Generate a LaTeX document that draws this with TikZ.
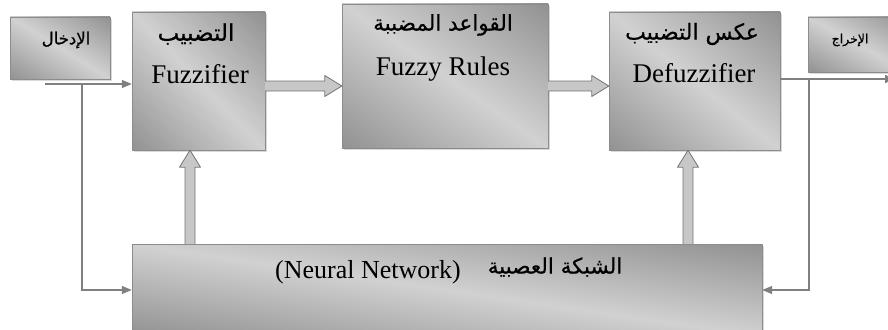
\documentclass[tikz,border=0pt]{standalone}
\usepackage{fontspec}
\setmainfont{Liberation Serif}
\newfontfamily\arabicfont[Script=Arabic,FakeBold=0.5]{DejaVu Sans}
\TeXXeTstate=1
\usetikzlibrary{calc,positioning,shadows,arrows.meta}

% grey sheen: dark in two opposite corners, light along the other diagonal
\pgfdeclarefunctionalshading{sheen}{\pgfpoint{0bp}{0bp}}{\pgfpoint{100bp}{100bp}}{}{
  add 100 div 1 sub abs 0.5 mul neg 0.82 add dup dup
}

% hollow block arrow between two points
\newcommand{\fatarrow}[2]{%
  \path (#1) coordinate (fa-s) (#2) coordinate (fa-e);
  \coordinate (fa-h) at ($(fa-e)!17pt!(fa-s)$);
  \draw[fat] ($(fa-s)!5pt!90:(fa-e)$) -- ($(fa-h)!5pt!90:(fa-e)$)
    -- ($(fa-h)!10.5pt!90:(fa-e)$) -- (fa-e) -- ($(fa-h)!10.5pt!-90:(fa-e)$)
    -- ($(fa-h)!5pt!-90:(fa-e)$) -- ($(fa-s)!5pt!-90:(fa-e)$);
}

\begin{document}
\begin{tikzpicture}[x=1pt,y=-1pt,
  blk/.style={draw=black!45, shade, shading=sheen, inner sep=0pt,
    drop shadow={shadow xshift=2pt,shadow yshift=-2pt,opacity=.3}},
  ln/.style={draw=black!50, line width=1.3pt},
  tip/.style={-{Triangle[length=10pt,width=8pt]}},
  fat/.style={draw=black!55, fill=black!22, line width=.8pt, line join=round},
  art/.style={font=\fontsize{#1}{#1}\arabicfont},
  ent/.style={font=\fontsize{27}{30}\selectfont, anchor=base}]
\useasboundingbox (0,0) rectangle (888,329);
\clip (0,0) rectangle (888,329);

% blocks
\node[blk, minimum width=100pt, minimum height=62pt] (in) at (60,48) {};
\node[blk, minimum width=133pt, minimum height=138pt] (fuzz) at (198.5,81) {};
\node[blk, minimum width=206pt, minimum height=144pt] (rules) at (445,76) {};
\node[blk, minimum width=171pt, minimum height=138pt] (defuzz) at (694.5,81) {};
\node[blk, minimum width=100pt, minimum height=55pt] (out) at (858,44.5) {};
\node[blk, minimum width=630pt, minimum height=92pt] (nn) at (447,290) {};

% labels
\node[art=16.5] (inT) at (66,40) {\beginR الإدخال\endR};
\node[art=23] (fuzzT) at (196,34) {\beginR التضبيب\endR};
\node[ent] (fuzzE) at (200,83) {Fuzzifier};
\node[art=21.5] (rulesT) at (443,25) {\beginR القواعد المضببة\endR};
\node[ent] (rulesE) at (443,75) {Fuzzy Rules};
\node[art=22] (defuzzT) at (692,34) {\beginR عكس التضبيب\endR};
\node[ent] (defuzzE) at (694,82) {Defuzzifier};
\node[art=12.5] (outT) at (850,40) {\beginR الإخراج\endR};
\node[art=21.5] (nnT) at (555,267) {\beginR الشبكة العصبية\endR};
\node[ent, font=\fontsize{26}{30}\selectfont] (nnE) at (368,278) {(Neural Network)};

% signal lines
\coordinate (inStart) at (45,84);
\coordinate (inTap) at (82,84);
\coordinate (outTap) at (809,79);
\coordinate (outEnd) at (895,79);
\draw[ln,tip] (inStart) -- (inStart -| fuzz.west);
\draw[ln,tip] (inTap) |- (nn.west);
\draw[ln,tip] (defuzz.east |- outTap) -- (outEnd);
\draw[ln,tip] (outTap) |- (nn.east);

% block arrows
\coordinate (fzRow) at (0,86);
\coordinate (fuzzUp) at (190,0);
\coordinate (defUp) at (688,0);
\fatarrow{fuzz.east |- fzRow}{rules.west |- fzRow}
\fatarrow{rules.east |- fzRow}{defuzz.west |- fzRow}
\fatarrow{nn.north -| fuzzUp}{fuzz.south -| fuzzUp}
\fatarrow{nn.north -| defUp}{defuzz.south -| defUp}
\end{tikzpicture}
\end{document}
